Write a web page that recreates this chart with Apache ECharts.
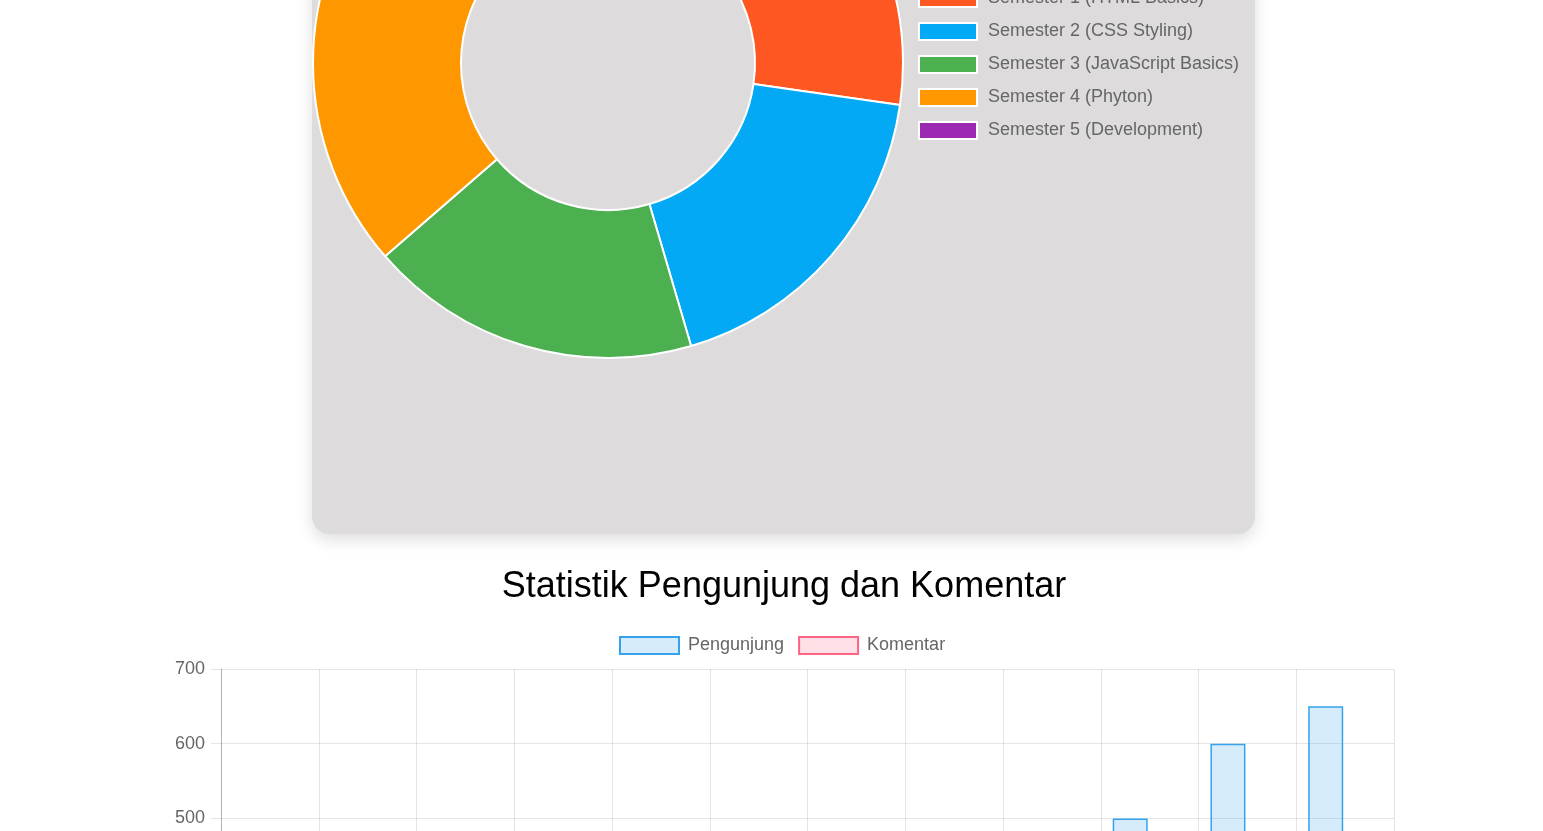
<!DOCTYPE html>
<html>
<head>
<meta charset="utf-8">
<script src="https://cdn.jsdelivr.net/npm/echarts@6/dist/echarts.min.js"></script>
<style>
html,body{margin:0;padding:0;overflow:hidden;background:#fff;width:1543px;height:831px;}
#c{position:absolute;left:0;top:-300px;width:1543px;height:1560px;}
</style>
</head>
<body>
<div id="c"></div>
<script>
// Doughnut data
const semesterNames = ['Semester 1 (HTML Basics)','Semester 2 (CSS Styling)','Semester 3 (JavaScript Basics)','Semester 4 (Phyton)','Semester 5 (Development)'];
const semesterValues = [30, 20, 20, 25, 15];
const semesterColors = ['#FF5722','#03A9F4','#4CAF50','#FF9800','#9C27B0'];

// Bar data
const months = ['Jan','Feb','Mar','Apr','Mei','Jun','Jul','Agu','Sep','Okt','Nov','Des'];
const pengunjung = [150, 200, 180, 220, 300, 280, 350, 400, 450, 500, 600, 650];
const komentar = [30, 45, 40, 60, 80, 70, 90, 100, 120, 150, 180, 200];
const yTicks = {min: 0, max: 700, interval: 100};

const FONT = 'Liberation Sans, Arial, Helvetica, sans-serif';
const S = 300; // canvas offset (page y = canvas y - S)

const chart = echarts.init(document.getElementById('c'), null, {renderer: 'canvas'});
chart.setOption({
  animation: false,
  textStyle: {fontFamily: FONT},
  graphic: [
    {type: 'rect', z: -10, shape: {x: 312, y: 0, width: 943, height: 534 + S, r: 18},
     style: {fill: '#dddbdc', shadowBlur: 16, shadowOffsetY: 6, shadowColor: 'rgba(0,0,0,0.13)'}},
    {type: 'text', z: 10, x: 784, y: 587 + S,
     style: {text: 'Statistik Pengunjung dan Komentar', fill: '#000', font: '36px ' + FONT, textAlign: 'center', textVerticalAlign: 'middle'}}
  ],
  legend: [
    {
      orient: 'vertical', left: 918, top: S - 11,
      data: semesterNames,
      icon: 'rect', itemWidth: 58, itemHeight: 17, itemGap: 14,
      textStyle: {fontSize: 18, color: '#666', fontFamily: FONT, padding: [0, 0, 0, 6]},
      padding: 0,
      itemStyle: {borderColor: '#fff', borderWidth: 2}
    },
    {
      orient: 'horizontal', left: 619, top: 636 + S,
      data: ['Pengunjung', 'Komentar'],
      icon: 'rect', itemWidth: 59, itemHeight: 17, itemGap: 14,
      textStyle: {fontSize: 18, color: '#666', fontFamily: FONT, padding: [0, 0, 0, 4]},
      padding: 0
    }
  ],
  grid: {left: 221, top: 669 + S, width: 1173, height: 523, containLabel: false},
  xAxis: {
    type: 'category', data: months, boundaryGap: true,
    axisLine: {lineStyle: {color: 'rgba(0,0,0,0.25)'}},
    axisTick: {show: true, length: 10, lineStyle: {color: 'rgba(0,0,0,0.1)'}},
    axisLabel: {fontSize: 18, color: '#666', margin: 16},
    splitLine: {show: true, lineStyle: {color: 'rgba(0,0,0,0.1)', width: 1}}
  },
  yAxis: {
    type: 'value', min: yTicks.min, max: yTicks.max, interval: yTicks.interval,
    axisLine: {show: true, lineStyle: {color: 'rgba(0,0,0,0.22)'}},
    axisTick: {show: true, length: 10, lineStyle: {color: 'rgba(0,0,0,0.1)'}},
    axisLabel: {fontSize: 18, color: '#666', margin: 16, fontFamily: FONT},
    splitLine: {show: true, lineStyle: {color: 'rgba(0,0,0,0.1)', width: 1}}
  },
  series: [
    {
      type: 'pie', name: 'Semester', center: [608, 63 + S], radius: [147, 295],
      startAngle: 90, clockwise: true, label: {show: false}, labelLine: {show: false},
      emphasis: {disabled: true},
      itemStyle: {borderColor: '#fff', borderWidth: 2},
      data: semesterNames.map((n, i) => ({name: n, value: semesterValues[i], itemStyle: {color: semesterColors[i]}}))
    },
    {
      type: 'bar', name: 'Pengunjung', data: pengunjung, barWidth: 35, barGap: '11%',
      itemStyle: {color: 'rgba(54,162,235,0.2)', borderColor: 'rgba(54,162,235,1)', borderWidth: 1.5}
    },
    {
      type: 'bar', name: 'Komentar', data: komentar, barWidth: 35, barGap: '11%',
      itemStyle: {color: 'rgba(255,99,132,0.2)', borderColor: 'rgba(255,99,132,1)', borderWidth: 1.5}
    }
  ]
});
</script>
</body>
</html>
